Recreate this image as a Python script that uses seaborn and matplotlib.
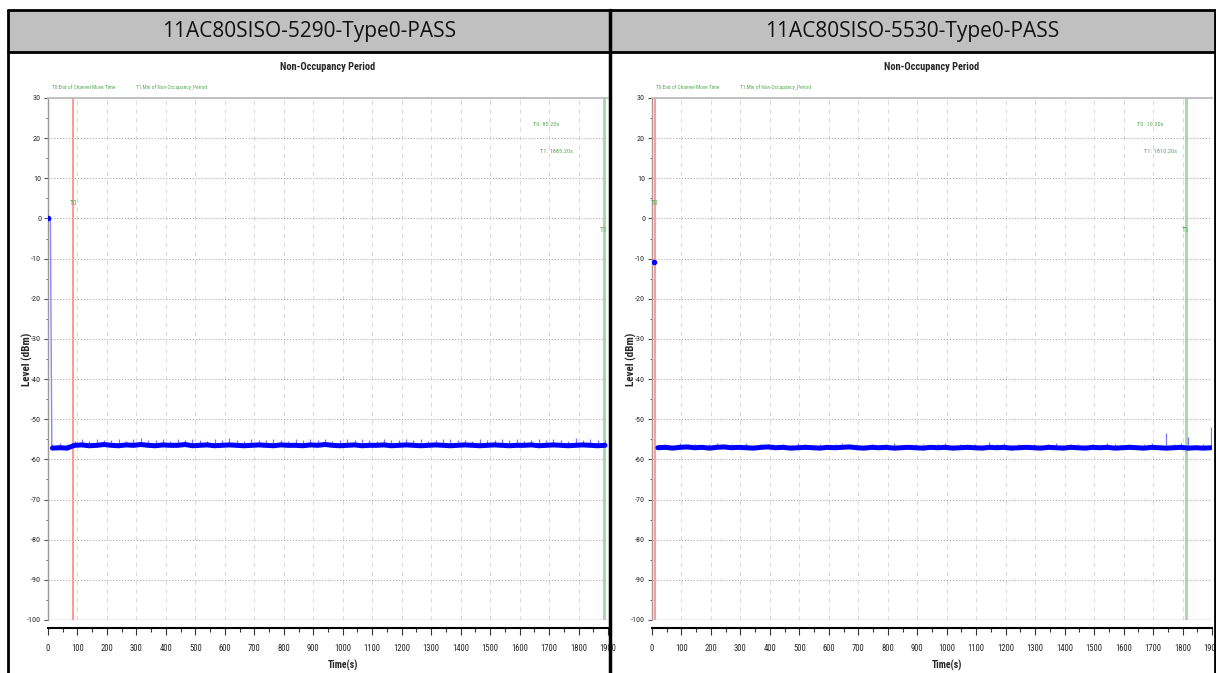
import numpy as np
import pandas as pd
import matplotlib
matplotlib.use("Agg")
import matplotlib.pyplot as plt
import seaborn as sns
from matplotlib.patches import Rectangle
from matplotlib.lines import Line2D
from matplotlib.ticker import MultipleLocator
from matplotlib import font_manager

# ---------------- data ----------------
headers = ["11AC80SISO-5290-Type0-PASS", "11AC80SISO-5530-Type0-PASS"]
t0_values = [85.20, 10.20]
t1_values = [1885.20, 1810.20]

# initial (pre-switch) samples
pre_time_5290 = [0, 4, 8, 13]
pre_level_5290 = [0.0, 0.3, -0.2, -57.2]
pre_time_5530 = [8]
pre_level_5530 = [-10.8]

# sampled trace (mean level) and upper noise peaks
time_5290 = np.arange(15, 1891, 25)
level_5290 = [-57.2, -57.1, -57.2, -56.5, -56.4, -56.6, -56.5, -56.3, -56.5, -56.6,
              -56.4, -56.5, -56.3, -56.5, -56.6, -56.4, -56.5, -56.5, -56.3, -56.6,
              -56.5, -56.4, -56.6, -56.5, -56.4, -56.5, -56.6, -56.5, -56.4, -56.5,
              -56.6, -56.4, -56.5, -56.5, -56.6, -56.4, -56.5, -56.3, -56.5, -56.6,
              -56.5, -56.4, -56.6, -56.5, -56.5, -56.4, -56.6, -56.5, -56.4, -56.5,
              -56.6, -56.5, -56.4, -56.5, -56.6, -56.5, -56.4, -56.5, -56.6, -56.5,
              -56.4, -56.5, -56.6, -56.5, -56.5, -56.4, -56.6, -56.5, -56.4, -56.5,
              -56.6, -56.5, -56.4, -56.5, -56.6, -56.5]
peak_5290 = [-56.2, -56.0, -56.1, -55.3, -55.0, -55.4, -54.8, -55.2, -55.1, -54.9,
             -55.3, -55.0, -54.6, -55.2, -55.1, -54.9, -55.3, -55.0, -55.2, -54.8,
             -55.1, -55.3, -55.0, -55.2, -54.7, -55.1, -55.3, -55.0, -55.2, -55.1,
             -54.9, -55.2, -55.3, -55.0, -55.1, -54.8, -55.2, -55.0, -55.3, -55.1,
             -55.0, -55.2, -54.9, -55.1, -55.3, -55.0, -55.2, -55.1, -54.8, -55.2,
             -55.0, -55.3, -55.1, -55.0, -54.9, -55.2, -55.1, -55.3, -55.0, -55.2,
             -55.1, -54.9, -55.2, -55.0, -55.3, -55.1, -55.0, -55.2, -54.9, -55.1,
             -55.3, -54.6, -55.1, -55.0, -55.2, -55.1]

time_5530 = np.arange(20, 1896, 25)
level_5530 = [-57.1, -57.0, -57.2, -57.0, -56.9, -57.1, -57.0, -57.2, -57.0, -56.9,
              -57.1, -57.0, -57.1, -57.2, -57.0, -56.9, -57.1, -57.0, -57.2, -57.1,
              -57.0, -57.1, -57.2, -57.0, -57.1, -57.0, -56.9, -57.1, -57.2, -57.0,
              -57.1, -57.0, -57.2, -57.1, -57.0, -57.1, -57.2, -57.0, -57.1, -57.0,
              -57.2, -57.1, -57.0, -57.1, -57.2, -57.0, -57.1, -57.0, -57.2, -57.1,
              -57.0, -57.1, -57.2, -57.0, -57.1, -57.2, -57.0, -57.1, -57.2, -57.0,
              -57.1, -57.0, -57.2, -57.1, -57.0, -57.1, -57.2, -57.0, -57.1, -57.2,
              -57.1, -57.0, -57.2, -57.1, -57.2, -57.1]
peak_5530 = [-56.4, -56.2, -56.3, -56.0, -56.3, -56.1, -56.4, -56.2, -55.9, -56.3,
             -56.2, -56.4, -56.0, -56.3, -56.2, -56.1, -56.4, -56.2, -56.3, -56.0,
             -56.2, -56.4, -56.1, -56.3, -56.2, -56.0, -56.3, -56.2, -56.4, -56.1,
             -56.3, -56.2, -56.0, -56.3, -56.4, -56.2, -56.1, -56.3, -56.2, -56.0,
             -56.3, -56.2, -56.4, -56.1, -56.3, -55.6, -56.2, -56.0, -56.3, -56.2,
             -56.4, -56.1, -56.3, -56.2, -56.0, -56.3, -56.2, -56.1, -56.4, -56.2,
             -56.3, -56.0, -56.2, -56.4, -56.1, -56.3, -56.2, -55.8, -56.3, -53.5,
             -56.2, -56.0, -54.5, -56.3, -56.1, -52.0]

panels = [
    dict(pre_t=pre_time_5290, pre_l=pre_level_5290, pre_line=True,
         t=time_5290, lvl=level_5290, pk=peak_5290),
    dict(pre_t=pre_time_5530, pre_l=pre_level_5530, pre_line=False,
         t=time_5530, lvl=level_5530, pk=peak_5530),
]

# ---------------- figure / table ----------------
sns.set_theme(style="white")
plt.rcParams["font.family"] = ["DejaVu Sans"]
plt.rcParams["axes.unicode_minus"] = False

# narrow font for chart texts, if present
names = {f.name for f in font_manager.fontManager.ttflist}
NARROW = None
for cand in ["Liberation Sans Narrow", "Arial Narrow", "DejaVu Sans Condensed",
             "Roboto Condensed", "Open Sans Condensed"]:
    if cand in names:
        NARROW = cand
        break
if NARROW is None:
    NARROW = "DejaVu Sans"
    SCALE = 0.8
else:
    SCALE = 1.0
CH = [NARROW, "DejaVu Sans"]

W, H = 1216, 673
fig = plt.figure(figsize=(W / 100, H / 100), dpi=100)
fig.patch.set_facecolor("white")


def fx(px):
    return px / W


def fy(py):
    return 1 - py / H


L, R, MID, TOP, HB = 8, 1215, 610, 10, 52
fig.patches.append(Rectangle((fx(L), fy(HB)), fx(R) - fx(L), fy(TOP) - fy(HB),
                             transform=fig.transFigure, facecolor="#c0c0c0",
                             edgecolor="none", zorder=0))

header_centers = [(L + MID) / 2, (MID + R) / 2]
for txt, cx in zip(headers, header_centers):
    fig.text(fx(cx), fy(31), txt, ha="center", va="center", fontsize=15,
             family="Open Sans", color="#111111")

axes_left_px = [48, 652]
GREEN_TXT = "#5aaa5a"

for i, p in enumerate(panels):
    x0 = axes_left_px[i]
    ax = fig.add_axes([fx(x0), fy(620), 560 / W, (620 - 98) / H])
    ax.set_facecolor("none")

    df = pd.DataFrame({"time": p["t"], "level": p["lvl"], "peak": p["pk"]})
    ax.vlines(df["time"], df["level"], df["peak"], color="#7777ff", lw=0.9, zorder=3)
    sns.lineplot(data=df, x="time", y="level", ax=ax, color="#0000ff", lw=3.6,
                 zorder=4, legend=False)

    pre = pd.DataFrame({"time": p["pre_t"], "level": p["pre_l"]})
    if p["pre_line"]:
        sns.lineplot(data=pre, x="time", y="level", ax=ax, color="#8888ff",
                     lw=1.0, zorder=3, legend=False)
    ax.plot(pre["time"].iloc[:1], pre["level"].iloc[:1], "o", color="#0000ff",
            ms=3, zorder=5)

    ax.axvline(t0_values[i], color="#ff9a9a", lw=1.5, zorder=2)
    ax.axvline(t1_values[i], color="#a6d6a6", lw=2, zorder=2)
    ax.axhline(-100, color="#bbbbbb", lw=1, zorder=2)

    ax.set_xlim(0, 1900)
    ax.set_ylim(-100, 30)
    ax.xaxis.set_major_locator(MultipleLocator(100))
    ax.xaxis.set_minor_locator(MultipleLocator(50))
    ax.yaxis.set_major_locator(MultipleLocator(10))
    ax.yaxis.set_minor_locator(MultipleLocator(5))

    ax.grid(axis="y", which="major", linestyle=":", color="#aaaaaa", lw=0.8)
    ax.grid(axis="x", which="major", linestyle=(0, (4, 4)), color="#dddddd", lw=0.8)

    ax.spines["right"].set_visible(False)
    ax.spines["top"].set_color("#bbbbbb")
    ax.spines["left"].set_color("#999999")
    ax.spines["left"].set_linewidth(1)
    ax.spines["bottom"].set_position(("outward", 6))
    ax.spines["bottom"].set_color("black")
    ax.spines["bottom"].set_linewidth(1.5)

    ax.tick_params(axis="x", which="major", direction="out", length=5, width=0.8,
                   color="#333333", labelsize=6.2 * SCALE, pad=6, bottom=True)
    ax.tick_params(axis="x", which="minor", direction="out", length=3, width=0.8,
                   color="#333333", bottom=True)
    ax.tick_params(axis="y", which="major", direction="out", length=3, width=0.8,
                   color="#555555", labelsize=5.8 * SCALE, pad=2, left=True)
    ax.tick_params(axis="y", which="minor", direction="out", length=1.5, width=0.6,
                   color="#555555", left=True)
    for lab in ax.get_xticklabels() + ax.get_yticklabels():
        lab.set_family(CH)

    ax.set_xlabel("Time(s)", fontsize=7 * SCALE, fontweight="bold", family=CH)
    ax.xaxis.set_label_coords(0.527, -0.077)
    ax.set_ylabel("Level (dBm)", fontsize=8 * SCALE, fontweight="bold", family=CH)
    ax.yaxis.set_label_coords(-0.027, 0.5)

    ax.text(0.5, 1.059, "Non-Occupancy Period", transform=ax.transAxes,
            ha="center", va="center", fontsize=7.5 * SCALE, fontweight="bold", family=CH)
    ax.text(0.007, 1.021, "T0:End of Channel Move Time", transform=ax.transAxes,
            ha="left", va="center", fontsize=3.9 * SCALE, color=GREEN_TXT, family=CH)
    ax.text(0.157, 1.021, "T1:Min of Non-Occupancy_Period", transform=ax.transAxes,
            ha="left", va="center", fontsize=3.9 * SCALE, color=GREEN_TXT, family=CH)

    ax.text(1645, 23.3, f"T0: {t0_values[i]:.2f}s", ha="left", va="center",
            fontsize=4.6 * SCALE, color=GREEN_TXT, family=CH)
    ax.text(1668, 16.8, f"T1: {t1_values[i]:.2f}s", ha="left", va="center",
            fontsize=4.6 * SCALE, color=GREEN_TXT, family=CH)
    ax.text(t0_values[i], 3.9, "T0", ha="center", va="center", fontsize=5.5 * SCALE,
            color=GREEN_TXT, family=CH)
    ax.text(t1_values[i], -2.9, "T1", ha="center", va="center", fontsize=5.5 * SCALE,
            color=GREEN_TXT, family=CH)

# table borders (drawn on top)
border = dict(transform=fig.transFigure, color="black", zorder=10)
fig.lines.append(Line2D([fx(L), fx(R)], [fy(TOP), fy(TOP)], lw=2, **border))
fig.lines.append(Line2D([fx(L), fx(R)], [fy(HB), fy(HB)], lw=2, **border))
fig.lines.append(Line2D([fx(L), fx(L)], [fy(TOP), fy(H)], lw=2, **border))
fig.lines.append(Line2D([fx(R), fx(R)], [fy(TOP), fy(H)], lw=2, **border))
fig.lines.append(Line2D([fx(MID), fx(MID)], [fy(TOP), fy(H)], lw=2.5, **border))

fig.savefig("out.png", dpi=100, facecolor="white")
